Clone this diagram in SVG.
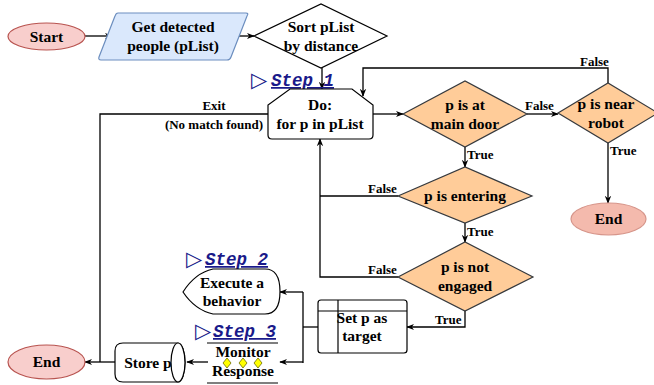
<svg xmlns="http://www.w3.org/2000/svg" width="654" height="385" viewBox="0 0 654 385">
<defs>
<marker id="ah" viewBox="0 0 10 10" refX="9" refY="5" markerWidth="8" markerHeight="8" markerUnits="userSpaceOnUse" orient="auto">
<path d="M0,1 L10,5 L0,9 L3,5 Z" fill="#000"/>
</marker>
<style>
.t{font-family:"Liberation Serif","Times New Roman",serif;font-weight:bold;font-size:15.5px;fill:#000;text-anchor:middle}
.s{font-family:"Liberation Serif","Times New Roman",serif;font-weight:bold;font-size:13px;fill:#000}
.step{font-family:"Liberation Mono","Courier New",monospace;font-weight:bold;font-style:italic;font-size:17.5px;fill:#1a1a8a;text-decoration:underline}
.tri{font-family:"DejaVu Sans",sans-serif;font-size:21px;fill:#1a1a8a}
.e{stroke:#000;stroke-width:1.3;fill:none}
.d{fill:#ffcc99;stroke:#36393d;stroke-width:1.2}
.w{fill:#fff;stroke:#000;stroke-width:1.2}
</style>
</defs>

<g id="connectors" class="e">
<path d="M85,36 L112,36" marker-end="url(#ah)"/>
<path d="M231,36 L254,36" marker-end="url(#ah)"/>
<path d="M322,68 L322,89" marker-end="url(#ah)"/>
<path d="M373,114 L403,114" marker-end="url(#ah)"/>
<path d="M527,114 L558,114" marker-end="url(#ah)"/>
<path d="M608,83 L608,68 L363,68 L363,96" marker-end="url(#ah)"/>
<path d="M608,143 L608,203" marker-end="url(#ah)"/>
<path d="M465,147 L465,167" marker-end="url(#ah)"/>
<path d="M465,223 L465,242" marker-end="url(#ah)"/>
<path d="M398,196 L320,196"/>
<path d="M398,277 L320,277 L320,139" marker-end="url(#ah)"/>
<path d="M465,310 L465,327 L407,327" marker-end="url(#ah)"/>
<path d="M318,327 L303,327"/>
<path d="M303,292 L303,363"/>
<path d="M303,292 L280,292" marker-end="url(#ah)"/>
<path d="M303,362 L280,362" marker-end="url(#ah)"/>
<path d="M208,362 L187,362" marker-end="url(#ah)"/>
<path d="M115,362 L85,362" marker-end="url(#ah)"/>
<path d="M268,114 L100,114 L100,362"/>
</g>

<g id="labels">
<text class="s" x="214" y="110" text-anchor="middle">Exit</text>
<text class="s" x="214" y="129" text-anchor="middle">(No match found)</text>
<text class="s" x="525" y="110">False</text>
<text class="s" x="467" y="159">True</text>
<text class="s" x="467" y="236">True</text>
<text class="s" x="368" y="193">False</text>
<text class="s" x="368" y="274">False</text>
<text class="s" x="435" y="324">True</text>
<text class="s" x="580" y="66">False</text>
<text class="s" x="610" y="155">True</text>
</g>

<g id="start">
<ellipse cx="46.5" cy="36.5" rx="38.5" ry="13.5" fill="#f8cecc" stroke="#b85450" stroke-width="1.2"/>
<text class="t" x="46.5" y="42">Start</text>
</g>

<g id="get-people">
<path d="M118,13 L246,13 Q249,13 247,16 L231,57 Q230,60 227,60 L101,60 Q98,60 99,57 L115,16 Q116,13 118,13 Z" fill="#dae8fc" stroke="#6c8ebf" stroke-width="1.2"/>
<text class="t" x="173" y="32">Get detected</text>
<text class="t" x="173" y="51">people (pList)</text>
</g>

<g id="sort">
<polygon class="w" points="254,36 321,4 387,36 321,68"/>
<text class="t" x="321" y="32">Sort pList</text>
<text class="t" x="321" y="51">by distance</text>
</g>

<g id="step1">
<text class="tri" x="251" y="87">▷</text>
<text class="step" x="271" y="86">Step 1</text>
</g>

<g id="do-loop">
<path d="M290,89 L352,89 L373,105 L373,135 Q373,139 369,139 L272,139 Q268,139 268,135 L268,105 Z" class="w"/>
<text class="t" x="320" y="110">Do:</text>
<text class="t" x="320" y="129">for p in pList</text>
</g>

<g id="main-door">
<polygon class="d" points="403,114 465,81 527,114 465,147"/>
<text class="t" x="465" y="110">p is at</text>
<text class="t" x="465" y="129">main door</text>
</g>

<g id="near-robot">
<polygon class="d" points="558,113 608,83 658,113 608,143"/>
<text class="t" x="606" y="109">p is near</text>
<text class="t" x="606" y="128">robot</text>
</g>

<g id="end-right">
<ellipse cx="608.5" cy="219" rx="37.5" ry="16" fill="#f4baad" stroke="#d6958a" stroke-width="1.2"/>
<text class="t" x="608.5" y="224">End</text>
</g>

<g id="entering">
<polygon class="d" points="398,196 465,167 532,196 465,223"/>
<text class="t" x="465" y="201">p is entering</text>
</g>

<g id="not-engaged">
<polygon class="d" points="398,277 465,242 533,277 465,311"/>
<text class="t" x="465" y="272">p is not</text>
<text class="t" x="465" y="291">engaged</text>
</g>

<g id="set-target">
<rect class="w" x="318" y="300" width="89" height="53" rx="3"/>
<line x1="338" y1="300" x2="338" y2="353" stroke="#000" stroke-width="1.2"/>
<line x1="318" y1="311" x2="407" y2="311" stroke="#000" stroke-width="1.2"/>
<text class="t" x="362" y="323">Set p as</text>
<text class="t" x="362" y="341">target</text>
</g>

<g id="step2">
<text class="tri" x="186" y="266">▷</text>
<text class="step" x="205" y="265">Step 2</text>
</g>

<g id="execute">
<path d="M213,269 L265,269 Q280,269 280,291.5 Q280,314 265,314 L213,314 Q195,310 183,292 Q195,273 213,269 Z" class="w"/>
<text class="t" x="232" y="288">Execute a</text>
<text class="t" x="232" y="306">behavior</text>
</g>

<g id="step3">
<text class="tri" x="195" y="338">▷</text>
<text class="step" x="213" y="337">Step 3</text>
</g>

<g id="monitor">
<line x1="207" y1="343" x2="278" y2="343" stroke="#000" stroke-width="1.2"/>
<line x1="207" y1="383" x2="278" y2="383" stroke="#000" stroke-width="1.2"/>
<text class="t" x="243" y="357">Monitor</text>
<text class="t" x="243" y="376">Response</text>
<g fill="#ffff00" stroke="#6b6b00" stroke-width="0.8">
<polygon points="227,358 231,363 227,368 223,363"/>
<polygon points="243,358 247,363 243,368 239,363"/>
<polygon points="258,358 262,363 258,368 254,363"/>
</g>
</g>

<g id="store">
<path d="M123,343 L178,343 A7,19.5 0 0 1 178,382 L123,382 Q115,382 115,374 L115,351 Q115,343 123,343 Z" class="w"/>
<ellipse cx="178" cy="362.5" rx="7" ry="19.5" class="w"/>
<text class="t" x="148" y="368">Store p</text>
</g>

<g id="end-left">
<ellipse cx="46.5" cy="362" rx="38.5" ry="17" fill="#f8cecc" stroke="#b85450" stroke-width="1.2"/>
<text class="t" x="46.5" y="367">End</text>
</g>
</svg>
